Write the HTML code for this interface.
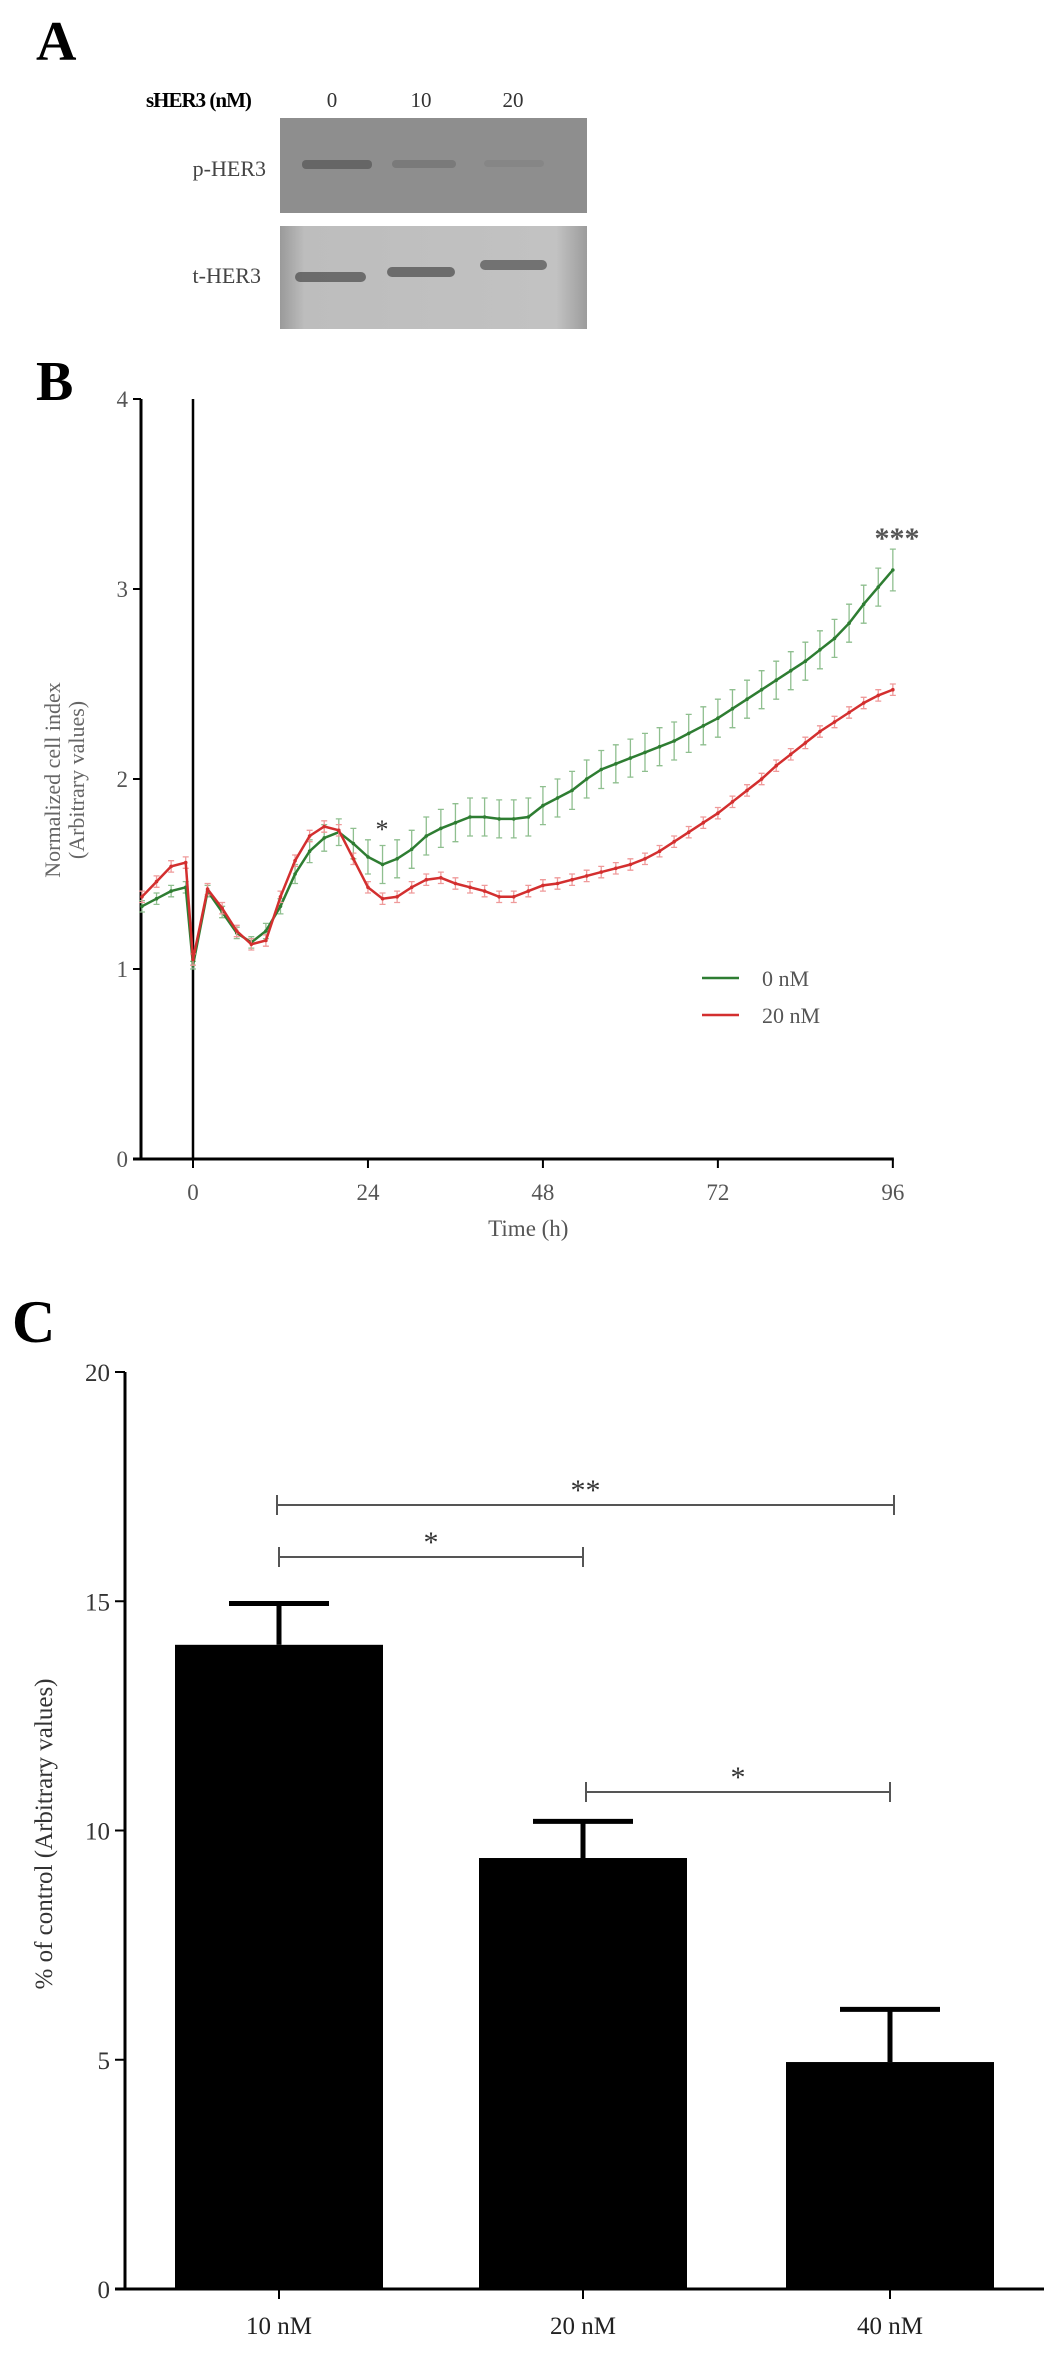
<!DOCTYPE html>
<html><head><meta charset="utf-8"><style>
html,body{margin:0;padding:0;background:#fff;}
svg{display:block;font-family:"Liberation Serif",serif;}
</style></head><body>
<svg id="fig" width="1063" height="2353" viewBox="0 0 1063 2353" xmlns="http://www.w3.org/2000/svg">
<defs>
<linearGradient id="blot2g" x1="0" x2="1" y1="0" y2="0">
<stop offset="0" stop-color="#9a9a9a"/><stop offset="0.08" stop-color="#bdbdbd"/><stop offset="0.9" stop-color="#c2c2c2"/><stop offset="1" stop-color="#9c9c9c"/>
</linearGradient>
</defs>
<!-- Panel A -->
<g>
<text x="36" y="60" font-size="56" font-weight="bold">A</text>
<text x="146" y="107" font-size="21" font-weight="bold" letter-spacing="-1">sHER3 (nM)</text>
<text x="332" y="107" font-size="21" text-anchor="middle" fill="#333">0</text>
<text x="421" y="107" font-size="21" text-anchor="middle" fill="#333">10</text>
<text x="513" y="107" font-size="21" text-anchor="middle" fill="#333">20</text>
<text x="266" y="176" font-size="22" text-anchor="end" fill="#444">p-HER3</text>
<text x="261" y="283" font-size="22" text-anchor="end" fill="#444">t-HER3</text>
<rect x="280" y="118" width="307" height="95" fill="#8e8e8e"/>
<rect x="302" y="160" width="70" height="9" rx="4" fill="#555" opacity="0.7"/>
<rect x="392" y="160" width="64" height="8" rx="4" fill="#666" opacity="0.5"/>
<rect x="484" y="160" width="60" height="7" rx="4" fill="#777" opacity="0.35"/>
<rect x="280" y="226" width="307" height="103" fill="url(#blot2g)"/>
<rect x="295" y="272" width="71" height="10" rx="5" fill="#505050" opacity="0.75"/>
<rect x="387" y="267" width="68" height="10" rx="5" fill="#505050" opacity="0.75"/>
<rect x="480" y="260" width="67" height="10" rx="5" fill="#505050" opacity="0.7"/>
</g>
<!-- Panel B -->
<g id="panelB">
<text x="36" y="400" font-size="56" font-weight="bold">B</text>
</g>
<!-- Panel C -->
<g id="panelC">
<text x="12" y="1342" font-size="60" font-weight="bold">C</text>
</g>
</svg>
<script>
// ---- Panel B data ----
const timesB = [-7,-5,-3,-1,0,2,4,6,8,10,12,14,16,18,20,22,24,26,28,30,32,34,36,38,40,42,44,46,48,50,52,54,56,58,60,62,64,66,68,70,72,74,76,78,80,82,84,86,88,90,92,94,96];
const green0nM = [1.33,1.37,1.41,1.43,1.02,1.41,1.30,1.19,1.14,1.20,1.33,1.50,1.62,1.69,1.72,1.66,1.59,1.55,1.58,1.63,1.70,1.74,1.77,1.80,1.80,1.79,1.79,1.80,1.86,1.90,1.94,2.00,2.05,2.08,2.11,2.14,2.17,2.20,2.24,2.28,2.32,2.37,2.42,2.47,2.52,2.57,2.62,2.68,2.74,2.82,2.92,3.01,3.10];
const greenErr = [0.03,0.03,0.03,0.03,0.02,0.03,0.03,0.03,0.03,0.04,0.04,0.05,0.06,0.07,0.07,0.08,0.09,0.1,0.1,0.1,0.1,0.1,0.1,0.1,0.1,0.1,0.1,0.1,0.1,0.1,0.1,0.1,0.1,0.1,0.1,0.1,0.1,0.1,0.1,0.1,0.1,0.1,0.1,0.1,0.1,0.1,0.1,0.1,0.1,0.1,0.1,0.1,0.11];
const red20nM = [1.38,1.46,1.54,1.56,1.05,1.42,1.32,1.20,1.13,1.15,1.38,1.57,1.70,1.75,1.73,1.58,1.43,1.37,1.38,1.43,1.47,1.48,1.45,1.43,1.41,1.38,1.38,1.41,1.44,1.45,1.47,1.49,1.51,1.53,1.55,1.58,1.62,1.67,1.72,1.77,1.82,1.88,1.94,2.00,2.07,2.13,2.19,2.25,2.30,2.35,2.40,2.44,2.47];
const redErr = 0.03;
const yTicksB = [0,1,2,3,4];
const xTicksB = [0,24,48,72,96];
// ---- Panel C data ----
const categoriesC = ["10 nM","20 nM","40 nM"];
const valuesC = [14.05,9.4,4.95];
const errorsC = [0.9,0.8,1.15];
const yTicksC = [0,5,10,15,20];

const NS = "http://www.w3.org/2000/svg";
function mk(parent, tag, attrs, text){
  const e = document.createElementNS(NS, tag);
  for (const k in attrs) e.setAttribute(k, attrs[k]);
  if (text !== undefined) e.textContent = text;
  parent.appendChild(e);
  return e;
}
// Panel B axes
const gB = document.getElementById('panelB');
const xB = h => 193 + h*7.29;
const yB = v => 1159 - v*190;
let el;
el = mk(gB,'line',{x1:141,y1:yB(4),x2:141,y2:yB(0)+1,stroke:'#000','stroke-width':3});
 
el = mk(gB,'line',{x1:133,y1:yB(0),x2:xB(96)+1,y2:yB(0),stroke:'#000','stroke-width':3});
 
el = mk(gB,'line',{x1:xB(0),y1:yB(4),x2:xB(0),y2:yB(0),stroke:'#000','stroke-width':2.5});
 
yTicksB.forEach(v=>{
  el = mk(gB,'line',{x1:133,y1:yB(v),x2:141,y2:yB(v),stroke:'#000','stroke-width':2});
   
  el = mk(gB,'text',{x:128,y:yB(v)+8,'font-size':23,'text-anchor':'end',fill:'#555'},String(v));
   
});
xTicksB.forEach(t=>{
  el = mk(gB,'line',{x1:xB(t),y1:yB(0),x2:xB(t),y2:yB(0)+9,stroke:'#000','stroke-width':2});
   
  el = mk(gB,'text',{x:xB(t),y:1200,'font-size':23,'text-anchor':'middle',fill:'#555'},String(t));
   
});
el = mk(gB,'text',{x:xB(46),y:1236,'font-size':23,'text-anchor':'middle',fill:'#555'},'Time (h)');
 
el = mk(gB,'text',{x:0,y:0,'font-size':22,'text-anchor':'middle',fill:'#666',transform:'translate(60,780) rotate(-90)'},'Normalized cell index');
 
el = mk(gB,'text',{x:0,y:0,'font-size':22,'text-anchor':'middle',fill:'#666',transform:'translate(84,780) rotate(-90)'},'(Arbitrary values)');
 

function series(vals, errs, lineColor, errColor, name){
  const g = mk(gB,'g',{});
  
  
  vals.forEach((v,i)=>{
    const e = Array.isArray(errs)?errs[i]:errs;
    const x = xB(timesB[i]);
    const b = mk(g,'path',{d:`M${x},${yB(v+e)}V${yB(v-e)}M${x-3},${yB(v+e)}h6M${x-3},${yB(v-e)}h6`,stroke:errColor,'stroke-width':1.3,fill:'none'});
    
    
  });
  const pts = vals.map((v,i)=>`${xB(timesB[i])},${yB(v)}`).join(' ');
  const l = mk(g,'polyline',{points:pts,fill:'none',stroke:lineColor,'stroke-width':2.5});
  
  
  vals.forEach((v,i)=>{
    const c = mk(g,'circle',{cx:xB(timesB[i]),cy:yB(v),r:1.8,fill:lineColor});
    
    
  });
}
series(green0nM, greenErr, '#2e7d32', '#8fbf8f', 'green-0nm');
series(red20nM, redErr, '#d32f2f', '#ef9a9a', 'red-20nm');

el = mk(gB,'text',{x:382,y:838,'font-size':26,'text-anchor':'middle',fill:'#333'},'*');
 
el = mk(gB,'text',{x:897,y:548,'font-size':30,'text-anchor':'middle',fill:'#555','font-weight':'bold'},'***');
 
// legend
el = mk(gB,'line',{x1:702,y1:978,x2:739,y2:978,stroke:'#2e7d32','stroke-width':2.5});
 
el = mk(gB,'text',{x:762,y:986,'font-size':22,fill:'#555'},'0 nM');
 
el = mk(gB,'line',{x1:702,y1:1015,x2:739,y2:1015,stroke:'#d32f2f','stroke-width':2.5});
 
el = mk(gB,'text',{x:762,y:1023,'font-size':22,fill:'#555'},'20 nM');
 

// Panel C
const gC = document.getElementById('panelC');
const yC = v => 2289 - v*(917/20);
const centersC = [279,583,890];
const barW = 208;
el = mk(gC,'line',{x1:125,y1:yC(20),x2:125,y2:yC(0)+1.5,stroke:'#000','stroke-width':3});
 
el = mk(gC,'line',{x1:115,y1:yC(0),x2:1044,y2:yC(0),stroke:'#000','stroke-width':3});
 
yTicksC.forEach(v=>{
  el = mk(gC,'line',{x1:115,y1:yC(v),x2:125,y2:yC(v),stroke:'#000','stroke-width':2});
   
  el = mk(gC,'text',{x:110,y:yC(v)+9,'font-size':25,'text-anchor':'end',fill:'#333'},String(v));
   
});
categoriesC.forEach((c,i)=>{
  const cx = centersC[i];
  el = mk(gC,'line',{x1:cx,y1:yC(0),x2:cx,y2:yC(0)+10,stroke:'#000','stroke-width':2});
   
  el = mk(gC,'text',{x:cx,y:2334,'font-size':25,'text-anchor':'middle',fill:'#222'},c);
   
  el = mk(gC,'line',{x1:cx,y1:yC(valuesC[i]),x2:cx,y2:yC(valuesC[i]+errorsC[i]),stroke:'#000','stroke-width':5});
   
  el = mk(gC,'line',{x1:cx-50,y1:yC(valuesC[i]+errorsC[i]),x2:cx+50,y2:yC(valuesC[i]+errorsC[i]),stroke:'#000','stroke-width':5});
   
  el = mk(gC,'rect',{x:cx-barW/2,y:yC(valuesC[i]),width:barW,height:yC(0)-yC(valuesC[i]),fill:'#000'});
   
});
el = mk(gC,'text',{x:0,y:0,'font-size':25,'text-anchor':'middle',fill:'#333',transform:'translate(52,1834) rotate(-90)'},'% of control (Arbitrary values)');
 
function sig(x1,x2,y,label,ly){
  const g = mk(gC,'g',{});
  
  
  mk(g,'path',{d:`M${x1},${y-10}V${y+10}M${x2},${y-10}V${y+10}M${x1},${y}H${x2}`,stroke:'#555','stroke-width':2,fill:'none'});
  mk(g,'text',{x:(x1+x2)/2,y:ly,'font-size':30,'text-anchor':'middle',fill:'#333'},label);
}
sig(277,894,1505,'**',1500);
sig(279,583,1557,'*',1552);
sig(586,890,1792,'*',1787);
</script>
</body></html>
